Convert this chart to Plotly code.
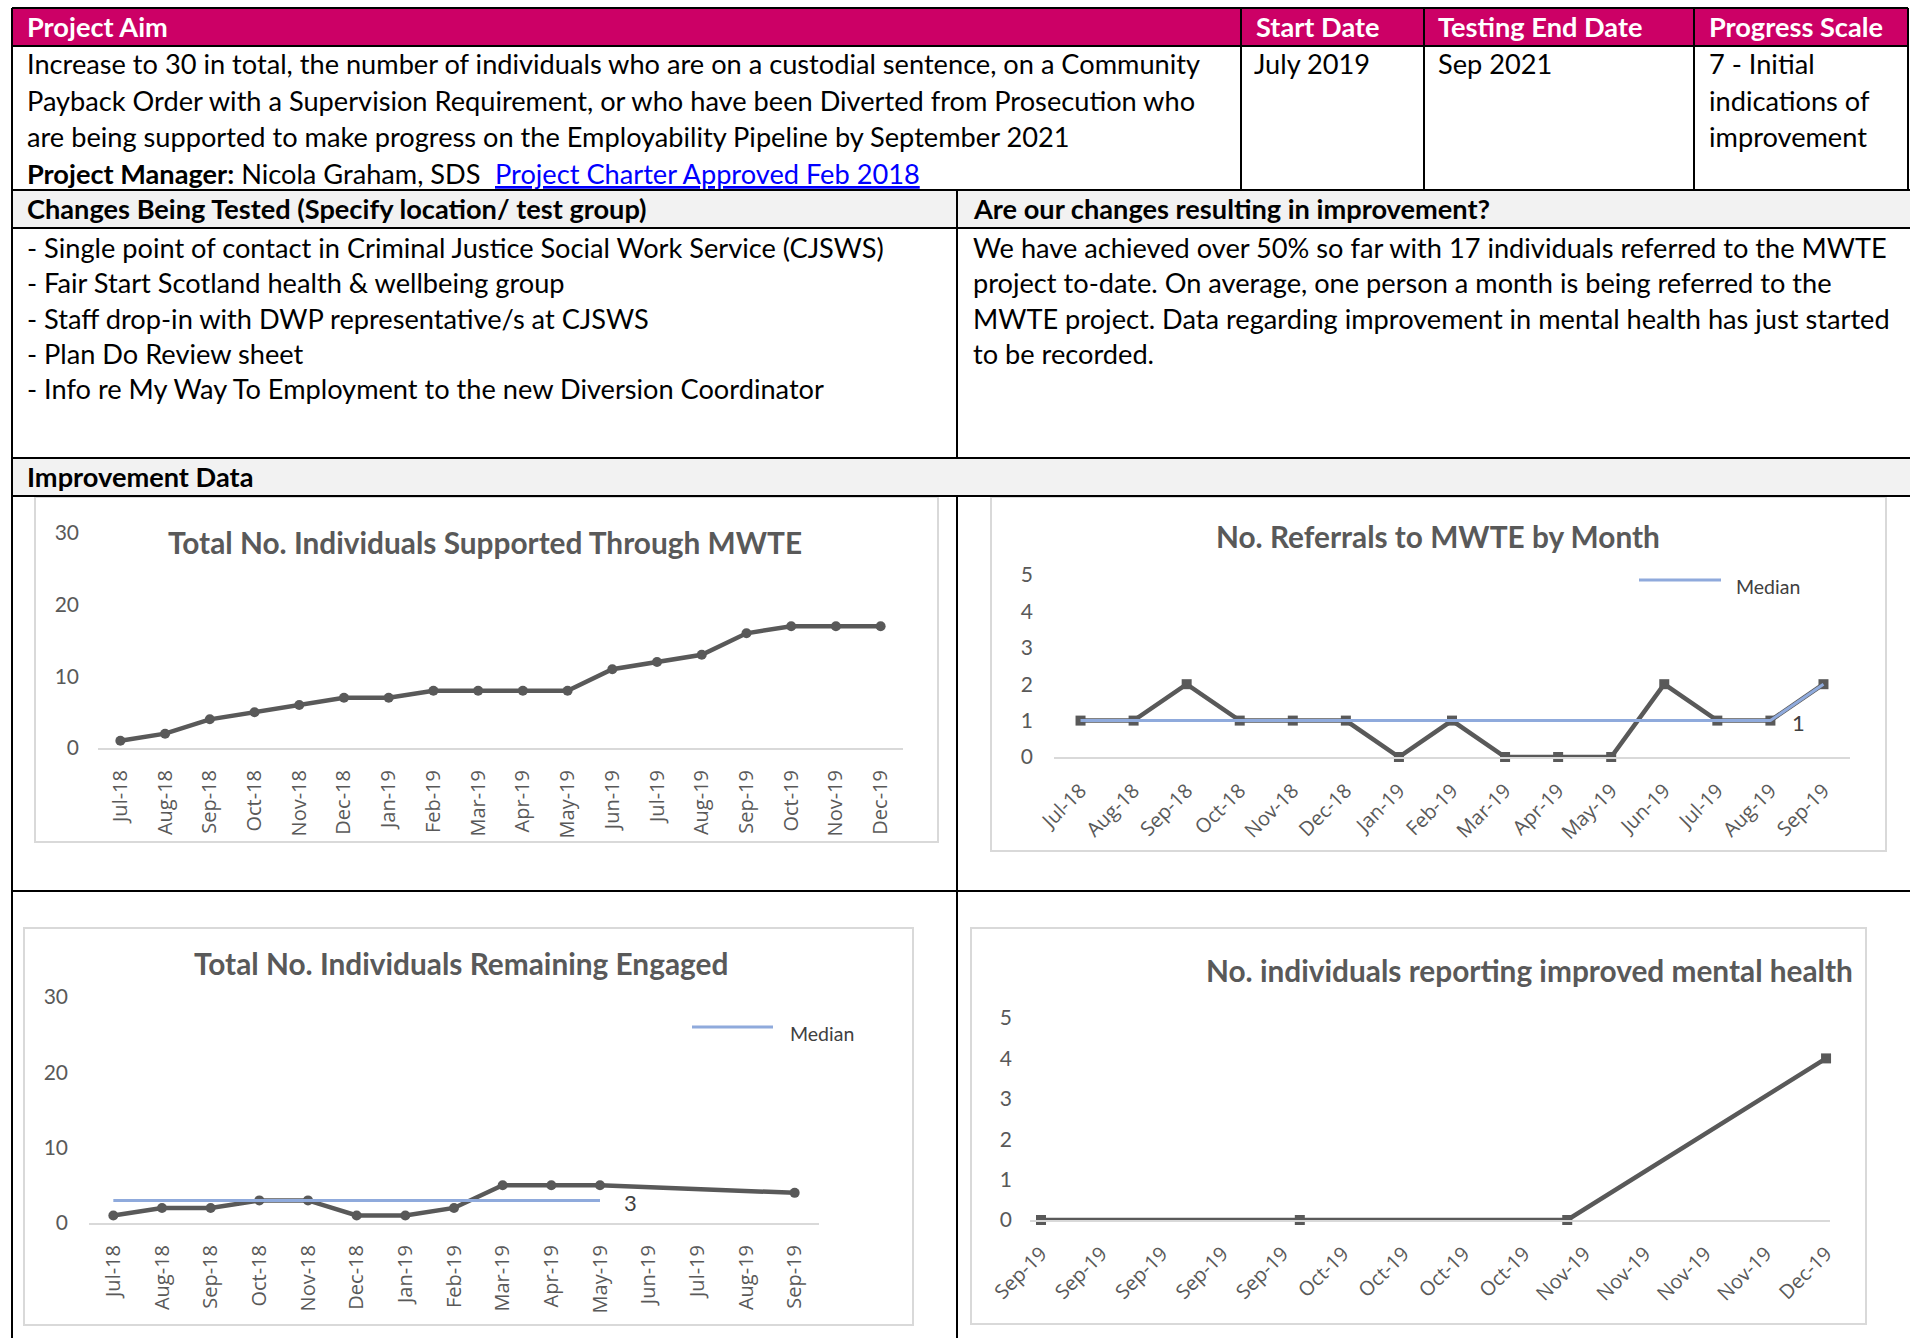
import plotly.graph_objects as go

W, H = 1910, 1338

# ---------------- data ----------------
months_supported = ["Jul-18", "Aug-18", "Sep-18", "Oct-18", "Nov-18", "Dec-18", "Jan-19", "Feb-19",
                    "Mar-19", "Apr-19", "May-19", "Jun-19", "Jul-19", "Aug-19", "Sep-19", "Oct-19",
                    "Nov-19", "Dec-19"]
total_supported = [1, 2, 4, 5, 6, 7, 7, 8, 8, 8, 8, 11, 12, 13, 16, 17, 17, 17]

months_referrals = ["Jul-18", "Aug-18", "Sep-18", "Oct-18", "Nov-18", "Dec-18", "Jan-19", "Feb-19",
                    "Mar-19", "Apr-19", "May-19", "Jun-19", "Jul-19", "Aug-19", "Sep-19"]
referrals = [1, 1, 2, 1, 1, 1, 0, 1, 0, 0, 0, 2, 1, 1, 2]
referrals_median = [1, 1, 1, 1, 1, 1, 1, 1, 1, 1, 1, 1, 1, 1, 2]

months_engaged = ["Jul-18", "Aug-18", "Sep-18", "Oct-18", "Nov-18", "Dec-18", "Jan-19", "Feb-19",
                  "Mar-19", "Apr-19", "May-19", "Jun-19", "Jul-19", "Aug-19", "Sep-19"]
engaged = [1, 2, 2, 3, 3, 1, 1, 2, 5, 5, 5, None, None, None, 4]
engaged_median = [3, 3, 3, 3, 3, 3, 3, 3, 3, 3, 3, None, None, None, None]

mental_dates = ["2019-09-01", "2019-10-01", "2019-11-01", "2019-12-01"]
mental_health = [0, 0, 0, 4]

chart_titles = ["Total No. Individuals Supported Through MWTE",
                "No. Referrals to MWTE by Month",
                "Total No. Individuals Remaining Engaged",
                "No. individuals reporting improved mental health"]

header_cells = ["Project Aim", "Start Date", "Testing End Date", "Progress Scale"]
aim_lines = ["Increase to 30 in total, the number of individuals who are on a custodial sentence, on a Community",
             "Payback Order with a Supervision Requirement, or who have been Diverted from Prosecution who",
             "are being supported to make progress on the Employability Pipeline by September 2021"]
manager_text = "<b>Project Manager:</b> Nicola Graham, SDS"
charter_link = "Project Charter Approved Feb 2018"
start_date = "July 2019"
end_date = "Sep 2021"
progress_lines = ["7 - Initial", "indications of", "improvement"]
changes_header = "Changes Being Tested (Specify location/ test group)"
changes_lines = ["- Single point of contact in Criminal Justice Social Work Service (CJSWS)",
                 "- Fair Start Scotland health & wellbeing group",
                 "- Staff drop-in with DWP representative/s at CJSWS",
                 "- Plan Do Review sheet",
                 "- Info re My Way To Employment to the new Diversion Coordinator"]
result_header = "Are our changes resulting in improvement?"
result_lines = ["We have achieved over 50% so far with 17 individuals referred to the MWTE",
                "project to-date. On average, one person a month is being referred to the",
                "MWTE project. Data regarding improvement in mental health has just started",
                "to be recorded."]
improvement_header = "Improvement Data"
legend_label = "Median"

# ---------------- styles ----------------
MAGENTA = "#CC0066"
GREY_BG = "#F2F2F2"
DARK = "#595959"
MEDIAN_C = "#8FAADC"
BOX_C = "#D9D9D9"
BODY_FONT = "Lato, Calibri, Carlito, sans-serif"
TICK_FONT = "Open Sans, Segoe UI, sans-serif"
BODY_SIZE = 27.2
LEFT_PAD = 2.5  # annotation inner padding compensation


def fx(x):
    return x / W


def fy(y):
    return 1 - y / H


shapes = []
annotations = []


def rect(x0, y0, x1, y1, fill="rgba(0,0,0,0)", lc="rgba(0,0,0,0)", lw=0, layer="below"):
    shapes.append(dict(type="rect", xref="paper", yref="paper", x0=fx(x0), x1=fx(x1),
                       y0=fy(y1), y1=fy(y0), fillcolor=fill, line=dict(color=lc, width=lw),
                       layer=layer))


def seg(x0, y0, x1, y1, color="#000000", w=2, layer="above"):
    shapes.append(dict(type="line", xref="paper", yref="paper", x0=fx(x0), y0=fy(y0),
                       x1=fx(x1), y1=fy(y1), line=dict(color=color, width=w), layer=layer))


def text(x, y, s, size=BODY_SIZE, color="#000000", bold=False, anchor="left", family=BODY_FONT):
    if anchor == "left":
        x = x - LEFT_PAD
    annotations.append(dict(xref="paper", yref="paper", x=fx(x), y=fy(y), text=s,
                            showarrow=False, xanchor=anchor, yanchor="middle",
                            font=dict(family=family, size=size, color=color,
                                      weight="bold" if bold else "normal")))


# ---------------- table backgrounds & borders ----------------
rect(12, 8, 1908, 46, fill=MAGENTA)
rect(12, 190, 1910, 228, fill=GREY_BG)
rect(12, 458, 1910, 496, fill=GREY_BG)

for yy, xr in [(8, 1908), (46, 1908), (190, 1910), (228, 1910), (458, 1910), (496, 1910), (891, 1910)]:
    seg(12, yy, xr, yy)
seg(12, 8, 12, 1338)
seg(1908, 8, 1908, 190)
for xx in [1241, 1424, 1694]:
    seg(xx, 8, xx, 190)
seg(957, 190, 957, 458)
seg(957, 496, 957, 1338)

# chart area boxes
rect(35, 497, 938, 842, lc=BOX_C, lw=2)
rect(991, 497, 1886, 851, lc=BOX_C, lw=2)
rect(24, 928, 913, 1325, lc=BOX_C, lw=2)
rect(971, 928, 1866, 1324, lc=BOX_C, lw=2)

# ---------------- table text ----------------
for xpos, label in zip([27, 1256, 1438, 1709], header_cells):
    text(xpos, 27, label, color="#FFFFFF", bold=True)

row_y = [64, 100, 136, 173]
for yy, line in zip(row_y, aim_lines):
    text(27, yy, line)
text(27, row_y[3], manager_text)
text(495, row_y[3], "<u>" + charter_link + "</u>", color="#0000FF")
text(1254, row_y[0], start_date)
text(1438, row_y[0], end_date)
for yy, line in zip(row_y, progress_lines):
    text(1709, yy, line)

text(27, 209, changes_header, bold=True)
text(973, 209, result_header, bold=True)
body_y = [247.5, 282.8, 318.1, 353.4, 388.7]
for yy, line in zip(body_y, changes_lines):
    text(27, yy, line)
for yy, line in zip(body_y, result_lines):
    text(973, yy, line)
text(27, 476, improvement_header, bold=True)

# chart titles
TITLE_SIZE = 29.8
text(485, 543, "<b>" + chart_titles[0] + "</b>", size=TITLE_SIZE, color=DARK, anchor="center")
text(1438, 537, "<b>" + chart_titles[1] + "</b>", size=TITLE_SIZE, color=DARK, anchor="center")
text(461, 963, "<b>" + chart_titles[2] + "</b>", size=TITLE_SIZE, color=DARK, anchor="center")
text(1529, 971, "<b>" + chart_titles[3] + "</b>", size=TITLE_SIZE, color=DARK, anchor="center")

# manual legends (line glyph + label)
seg(1639, 580, 1721, 580, color=MEDIAN_C, w=3)
text(1736, 586, legend_label, size=19.5, color="#404040")
seg(692, 1027, 773, 1027, color=MEDIAN_C, w=3)
text(790, 1033, legend_label, size=19.5, color="#404040")

# ---------------- traces ----------------
fig = go.Figure()
LW = 4.5

fig.add_trace(go.Scatter(x=months_supported, y=total_supported, mode="lines+markers",
                         line=dict(color=DARK, width=LW), marker=dict(symbol="circle", size=10, color=DARK),
                         cliponaxis=False, xaxis="x", yaxis="y", showlegend=False))

fig.add_trace(go.Scatter(x=months_referrals, y=referrals, mode="lines+markers",
                         line=dict(color=DARK, width=LW), marker=dict(symbol="square", size=10, color=DARK),
                         cliponaxis=False, xaxis="x2", yaxis="y2", showlegend=False))
fig.add_trace(go.Scatter(x=months_referrals, y=referrals_median, mode="lines",
                         line=dict(color=MEDIAN_C, width=3), cliponaxis=False,
                         xaxis="x2", yaxis="y2", showlegend=False))

fig.add_trace(go.Scatter(x=months_engaged, y=engaged, mode="lines+markers", connectgaps=True,
                         line=dict(color=DARK, width=LW), marker=dict(symbol="circle", size=10, color=DARK),
                         cliponaxis=False, xaxis="x3", yaxis="y3", showlegend=False))
fig.add_trace(go.Scatter(x=months_engaged, y=engaged_median, mode="lines",
                         line=dict(color=MEDIAN_C, width=3), cliponaxis=False,
                         xaxis="x3", yaxis="y3", showlegend=False))

fig.add_trace(go.Scatter(x=mental_dates, y=mental_health, mode="lines+markers",
                         line=dict(color=DARK, width=LW), marker=dict(symbol="square", size=10, color=DARK),
                         cliponaxis=False, xaxis="x4", yaxis="y4", showlegend=False))

# median data labels
annotations.append(dict(xref="x2", yref="y2", x=months_referrals[13], y=referrals_median[13],
                        text="1", showarrow=False, xanchor="left", yanchor="middle", xshift=20, yshift=-2,
                        font=dict(family=BODY_FONT, size=22, color="#404040")))
annotations.append(dict(xref="x3", yref="y3", x=months_engaged[10], y=engaged_median[10],
                        text="3", showarrow=False, xanchor="left", yanchor="middle", xshift=22, yshift=-2,
                        font=dict(family=BODY_FONT, size=22, color="#404040")))

# ---------------- axes ----------------
def xax(x0, x1, anchor, angle, **kw):
    d = dict(domain=[fx(x0), fx(x1)], anchor=anchor, showgrid=False, zeroline=False,
             showline=True, linecolor=BOX_C, linewidth=2, ticks="", tickangle=angle,
             ticklabelstandoff=12, tickfont=dict(family=TICK_FONT, size=20, color=DARK),
             fixedrange=True)
    d.update(kw)
    return d


def yax(ybot, ytop, anchor, rng, dt, standoff):
    return dict(domain=[fy(ybot), fy(ytop)], anchor=anchor, range=rng, dtick=dt, tick0=0,
                showgrid=False, zeroline=False, showline=False, ticks="",
                ticklabelstandoff=standoff, tickfont=dict(family=BODY_FONT, size=21, color=DARK),
                fixedrange=True)


layout = dict(
    width=W, height=H, margin=dict(l=0, r=0, t=0, b=0),
    paper_bgcolor="#FFFFFF", plot_bgcolor="rgba(0,0,0,0)",
    template="none", showlegend=False,
    shapes=shapes, annotations=annotations,
    xaxis=xax(98, 903, "y", -90, type="category", range=[-0.5, 17.5]),
    yaxis=yax(748, 533, "x", [0, 30], 10, 18),
    xaxis2=xax(1054, 1850, "y2", -45, type="category", range=[-0.5, 14.5]),
    yaxis2=yax(757, 575, "x2", [0, 5], 1, 20),
    xaxis3=xax(89, 819, "y3", -90, type="category", range=[-0.5, 14.5]),
    yaxis3=yax(1223, 997, "x3", [0, 30], 10, 20),
    xaxis4=xax(1030, 1830, "y4", -45, type="date",
               range=["2019-08-30 17:24", "2019-12-01 11:00"],
               tick0="2019-09-01", dtick=7 * 86400000, tickformat="%b-%y"),
    yaxis4=yax(1220, 1018, "x4", [0, 5], 1, 17),
)
fig.update_layout(**layout)

fig.write_html("out.html", config={"displayModeBar": False},
               post_script="document.body.style.margin='0px';document.body.style.overflow='hidden';")
